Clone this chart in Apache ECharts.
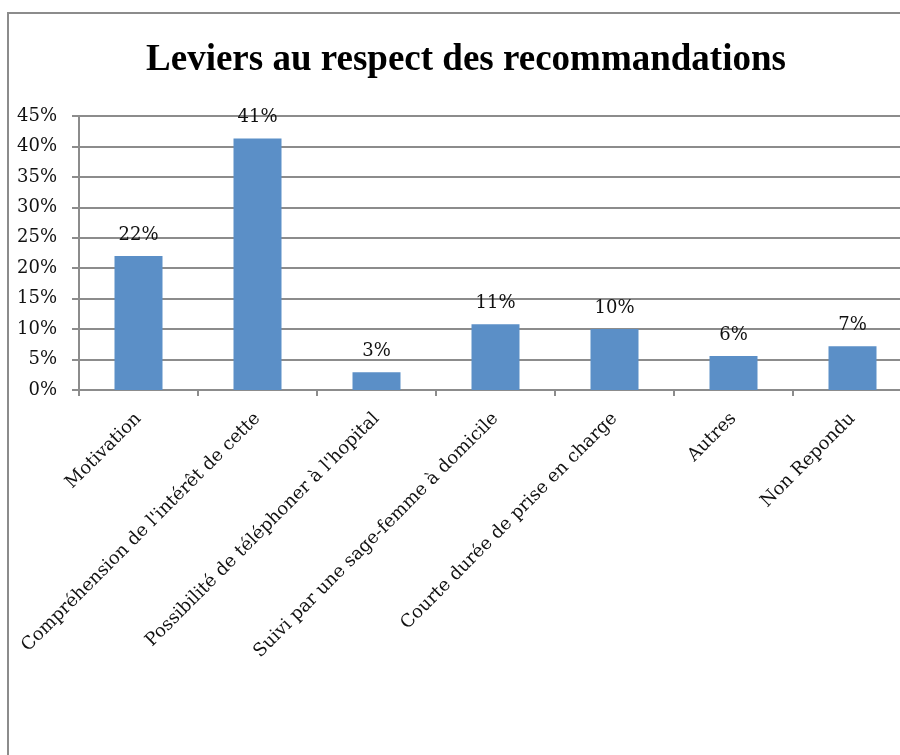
<!DOCTYPE html>
<html>
<head>
<meta charset="utf-8">
<script src="https://cdn.jsdelivr.net/npm/echarts@6/dist/echarts.min.js"></script>
<style>
  html, body { margin: 0; padding: 0; background: #fff; }
  #chart { width: 900px; height: 755px; }
</style>
</head>
<body>
<div id="chart"></div>
<script>
// catégories et valeurs (en %)
const categories = [
  "Motivation",
  "Compréhension de l'intérêt de cette",
  "Possibilité de téléphoner à l'hopital",
  "Suivi par une sage-femme à domicile",
  "Courte durée de prise en charge",
  "Autres",
  "Non Repondu"
];
const values = [22.0, 41.3, 2.9, 10.8, 10.0, 5.6, 7.2];
const yTicks = [0, 5, 10, 15, 20, 25, 30, 35, 40, 45];

const serif = "DejaVu Serif";
const gray = "#8c8c8c";

const chart = echarts.init(document.getElementById("chart"));
chart.setOption({
  animation: false,
  backgroundColor: "#fff",
  title: {
    text: "Leviers au respect des recommandations",
    left: 461,
    top: 37,
    textAlign: "center",
    textStyle: {
      fontFamily: "Liberation Serif",
      fontWeight: "bold",
      fontSize: 37,
      color: "#000"
    }
  },
  // cadre du graphique (déborde à droite et en bas, comme l'original)
  graphic: [{
    type: "rect",
    shape: { x: 8, y: 13, width: 1000, height: 1000 },
    style: { fill: null, stroke: gray, lineWidth: 2 }
  }],
  grid: {
    left: 79,
    right: -12,
    top: 116,
    bottom: 365,
    outerBoundsMode: "none"
  },
  xAxis: {
    type: "category",
    data: categories,
    axisLine: { lineStyle: { color: gray, width: 2 } },
    axisTick: { show: true, length: 6, lineStyle: { color: gray, width: 2 } },
    axisLabel: {
      interval: 0,
      rotate: 45,
      margin: 26,
      fontFamily: serif,
      fontSize: 18,
      color: "#111"
    }
  },
  yAxis: {
    type: "value",
    min: yTicks[0],
    max: yTicks[yTicks.length - 1],
    interval: 5,
    axisLine: { show: true, lineStyle: { color: gray, width: 2 } },
    axisTick: { show: true, length: 7, lineStyle: { color: gray, width: 2 } },
    splitLine: { lineStyle: { color: gray, width: 2 } },
    axisLabel: {
      margin: 22,
      fontFamily: serif,
      fontSize: 18,
      color: "#111",
      formatter: (v) => v + "%"
    }
  },
  series: [{
    type: "bar",
    data: values,
    barWidth: 48,
    itemStyle: { color: "#5b8fc7" },
    label: {
      show: true,
      position: "top",
      distance: 12,
      fontFamily: serif,
      fontSize: 18,
      color: "#111",
      formatter: (p) => Math.round(p.value) + "%"
    }
  }]
});
</script>
</body>
</html>
